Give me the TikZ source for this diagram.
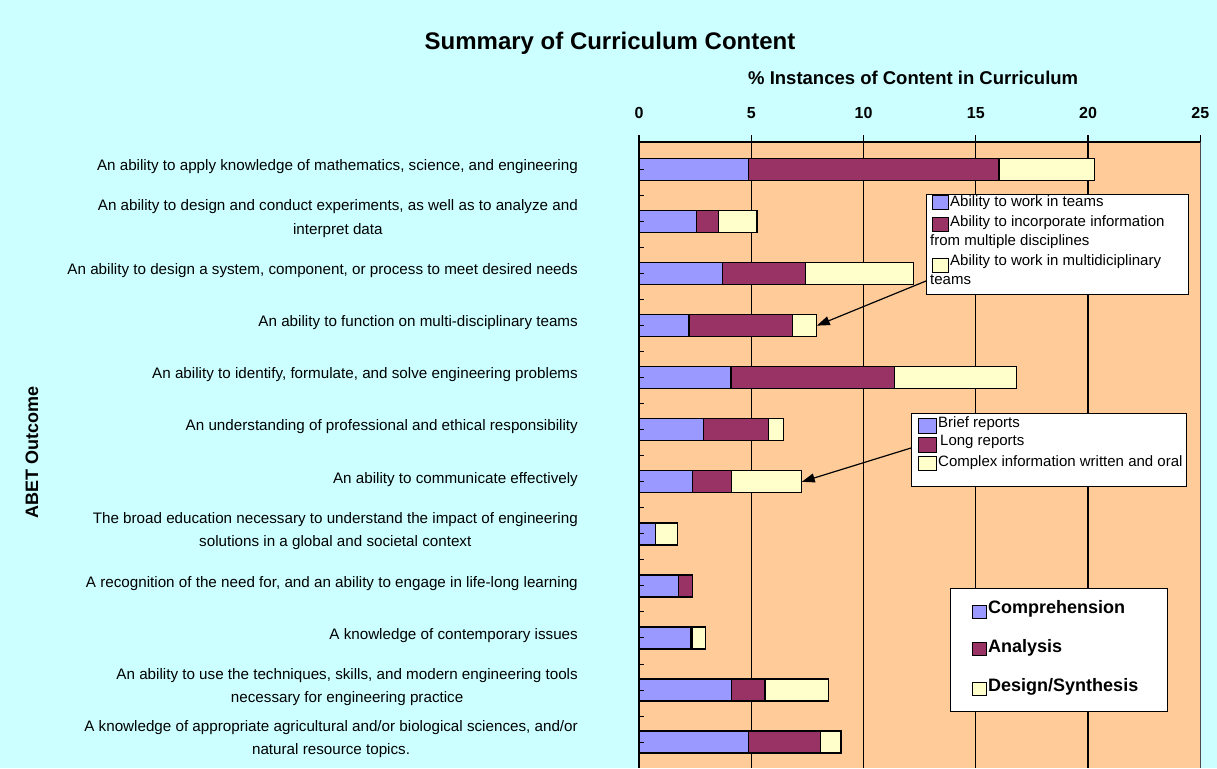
\documentclass[tikz,border=0pt]{standalone}
\usepackage{fontspec}
\setmainfont{Liberation Sans}
\usetikzlibrary{arrows.meta}

\definecolor{chartbg}{HTML}{CCFFFF}
\definecolor{plotbg}{HTML}{FFCC99}
\definecolor{comp}{HTML}{9999FF}
\definecolor{anal}{HTML}{993366}
\definecolor{desg}{HTML}{FFFFCC}

\begin{document}
\begin{tikzpicture}[x=1pt,y=-1pt,
  bar/.style={draw=black,line width=1.3pt},
  swatch/.style={draw=black,line width=1pt},
  outcome/.style={anchor=base east,align=center,inner sep=0pt,font=\fontsize{15.2}{23.3}\selectfont},
  legtext/.style={anchor=base west,inner sep=0pt,font=\fontsize{15}{17}\selectfont},
  legbold/.style={anchor=base west,inner sep=0pt,font=\fontsize{18}{21}\selectfont\bfseries},
  ticklab/.style={anchor=base,inner sep=0pt,font=\fontsize{16}{19}\selectfont\bfseries},
  legbox/.style={draw=black,fill=white,line width=1.2pt,anchor=north west,inner sep=0pt},
  callout/.style={-{Triangle[length=13pt,width=9pt]},line width=1.2pt}]
\useasboundingbox (0,0) rectangle (1217,768);

%Shape: chart area
\fill [chartbg] (0,0) rectangle (1217,768);
%Shape: plot area
\fill [plotbg] (639,142) rectangle (1200,768);
%Straight Lines: grid
\foreach \v in {5,10,15,20}
  \draw [line width=1.3pt] ({639+22.45*\v},142) -- ({639+22.45*\v},768);
\draw [gray!60!black,line width=1pt] (1200,142) -- (1200,768);

%Shape: stacked bars (comprehension / analysis / design)
\foreach \c/\a/\d [count=\i] in {4.87/16.04/20.3, 2.57/3.55/5.26, 3.71/7.43/12.22,
    2.23/6.85/7.92, 4.10/11.39/16.82, 2.86/5.76/6.43, 2.39/4.11/7.25, 0.74/0.74/1.72,
    1.75/2.39/2.39, 2.32/2.39/2.97, 4.11/5.61/8.43, 4.87/8.09/9.00}{
  \pgfmathsetmacro\yc{169.5+52.05*(\i-1)}
  \draw [bar,fill=desg] ({639+22.45*\a},\yc-11) rectangle ({639+22.45*\d},\yc+11);
  \draw [bar,fill=anal] ({639+22.45*\c},\yc-11) rectangle ({639+22.45*\a},\yc+11);
  \draw [bar,fill=comp] (639,\yc-11) rectangle ({639+22.45*\c},\yc+11);
  \coordinate (end\i) at ({639+22.45*\d},\yc);
}

%Straight Lines: axes and ticks
\draw [line width=1.3pt] (639,142) -- (1200,142);
\foreach \v in {0,5,...,25}{
  \draw [line width=1.3pt] ({639+22.45*\v},135) -- ({639+22.45*\v},142);
  \node [ticklab] (tick\v) at ({639+22.45*\v},118.3) {\v};
}
\foreach \k in {1,...,23}
  \draw [line width=1pt] (639,143.5+26.025*\k) -- (644,143.5+26.025*\k);
\draw [line width=2.2pt] (639,141) -- (639,768);

% Text Node
\node [anchor=base,inner sep=0pt,font=\fontsize{24}{28}\selectfont\bfseries] (title) at (610,50) {Summary of Curriculum Content};
% Text Node
\node [anchor=base west,inner sep=0pt,font=\fontsize{18.5}{22}\selectfont\bfseries] (xtitle) at (748,84) {\% Instances of Content in Curriculum};
% Text Node
\node [anchor=base,inner sep=0pt,rotate=90,font=\fontsize{18}{21}\selectfont\bfseries] (ytitle) at (38,452) {ABET Outcome};

% Text Node
\node [outcome] (out1) at (578,170.7) {An ability to apply knowledge of mathematics, science, and engineering};
\node [outcome] (out2) at (578,234.05) {An ability to design and conduct experiments, as well as to analyze and\\interpret data};
\node [outcome] (out3) at (578,274.8) {An ability to design a system, component, or process to meet desired needs};
\node [outcome] (out4) at (578,326.85) {An ability to function on multi-disciplinary teams};
\node [outcome] (out5) at (578,378.9) {An ability to identify, formulate, and solve engineering problems};
\node [outcome] (out6) at (578,430.95) {An understanding of professional and ethical responsibility};
\node [outcome] (out7) at (578,483.0) {An ability to communicate effectively};
\node [outcome] (out8) at (578,546.35) {The broad education necessary to understand the impact of engineering\\solutions in a global and societal context};
\node [outcome] (out9) at (578,587.1) {A recognition of the need for, and an ability to engage in life-long learning};
\node [outcome] (out10) at (578,639.15) {A knowledge of contemporary issues};
\node [outcome] (out11) at (578,702.5) {An ability to use the techniques, skills, and modern engineering tools\\necessary for engineering practice};
\node [outcome] (out12) at (578,754.55) {A knowledge of appropriate agricultural and/or biological sciences, and/or\\natural resource topics.};

%Shape: legend teams
\node [legbox,minimum width=262pt,minimum height=100pt] (legTeams) at (926,194) {};
\draw [swatch,fill=comp] (932,195) rectangle (948,209);
\draw [swatch,fill=anal] (932,217) rectangle (948,231);
\draw [swatch,fill=desg] (932,258) rectangle (948,272);
\node [legtext] (teamsA) at (950,206.9) {Ability to work in teams};
\node [legtext] (teamsB) at (950,226.9) {Ability to incorporate information};
\node [legtext] (teamsB2) at (930,245.2) {from multiple disciplines};
\node [legtext] (teamsC) at (950,265.9) {Ability to work in multidiciplinary};
\node [legtext] (teamsC2) at (930,284.5) {teams};

%Shape: legend reports
\node [legbox,minimum width=275pt,minimum height=73pt] (legReports) at (911,413) {};
\draw [swatch,fill=comp] (918,418.5) rectangle (936,433);
\draw [swatch,fill=anal] (918,437.5) rectangle (936,452);
\draw [swatch,fill=desg] (918,456.5) rectangle (936,470.5);
\node [legtext] (repA) at (938,427.5) {Brief reports};
\node [legtext] (repB) at (940,445.9) {Long reports};
\node [legtext] (repC) at (938,466.2) {Complex information written and oral};

%Shape: legend levels
\node [legbox,minimum width=217pt,minimum height=123pt] (legLevels) at (950,588) {};
\draw [swatch,fill=comp] (972.5,605) rectangle (986,618.5);
\draw [swatch,fill=anal] (972.5,642) rectangle (986,655.5);
\draw [swatch,fill=desg] (972.5,682) rectangle (986,695.5);
\node [legbold] (levA) at (988,613.2) {Comprehension};
\node [legbold] (levB) at (988,652.5) {Analysis};
\node [legbold] (levC) at (988,691.5) {Design/Synthesis};

%Straight Lines: callouts
\coordinate (teamsTail) at (926,281);
\coordinate (reportsTail) at (911,448);
\draw [callout] (teamsTail) -- (end4);
\draw [callout] (reportsTail) -- (end7);

\end{tikzpicture}
\end{document}
